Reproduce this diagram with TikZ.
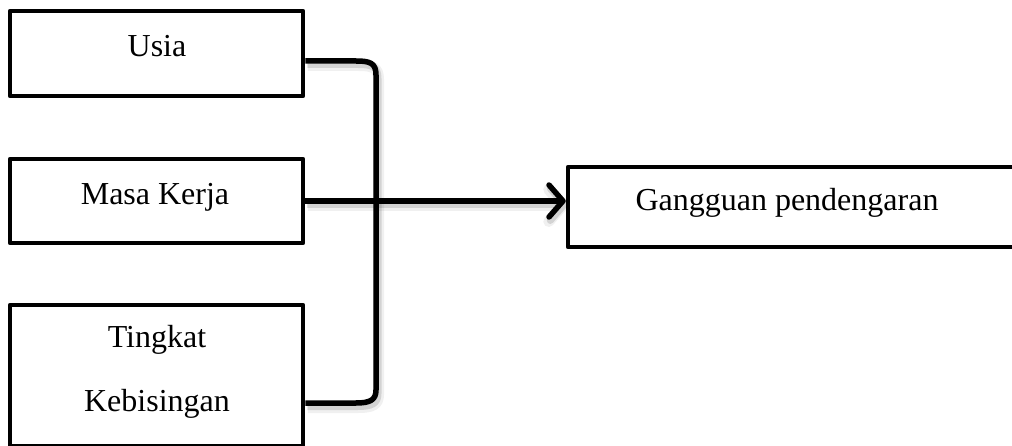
\documentclass[tikz,border=0pt]{standalone}
\usepackage{fontspec}
\setmainfont{Liberation Serif}
\usetikzlibrary{arrows.meta}
\begin{document}
\begin{tikzpicture}[x=1pt,y=-1pt,
  box/.style={draw=black,line width=4.5pt,line join=round,fill=white,inner sep=0pt},
  lbl/.style={anchor=base,inner sep=0pt,font=\fontsize{32}{38}\selectfont},
  softshadow/.style={
    preaction={draw=black,opacity=0.06,line width=11pt,
      transform canvas={xshift=2.5pt,yshift=-4.5pt}},
    preaction={draw=black,opacity=0.12,line width=7pt,
      transform canvas={xshift=2pt,yshift=-3.5pt}}},
  link/.style={draw=black,line width=5.5pt,line join=round,softshadow}]
\useasboundingbox (0,0) rectangle (1012,446);
\clip (0,0) rectangle (1012,446);

% factor boxes
\node[box,minimum width=293pt,minimum height=85pt] (usia) at (156.5,53.5) {};
\node[box,minimum width=293pt,minimum height=84pt] (mk) at (156.5,201) {};
\node[box,minimum width=293pt,minimum height=141pt] (tk) at (156.5,375.5) {};
% outcome box
\node[box,minimum width=448pt,minimum height=80pt] (gg) at (792,207) {};

% labels
\node[lbl] (lusia) at (157,57) {Usia};
\node[lbl] (lmk) at (155,205) {Masa Kerja};
\node[lbl] (ltk1) at (157,347) {Tingkat};
\node[lbl] (ltk2) at (157,411) {Kebisingan};
\node[lbl] (lgg) at (787,211) {Gangguan pendengaran};

% bracket joining the factors
\draw[link] (usia.east |- 0,61) -- (356,61)
  .. controls (370,61) and (376,63) .. (376,75)
  -- (376,390)
  .. controls (376,400) and (370,403) .. (356,403)
  -- (tk.east |- 0,403);

% arrow into the outcome
\draw[link,-{Straight Barb[length=14pt,width=32pt,round]}]
  (mk.east) -- (mk.east -| gg.west);
\end{tikzpicture}
\end{document}
